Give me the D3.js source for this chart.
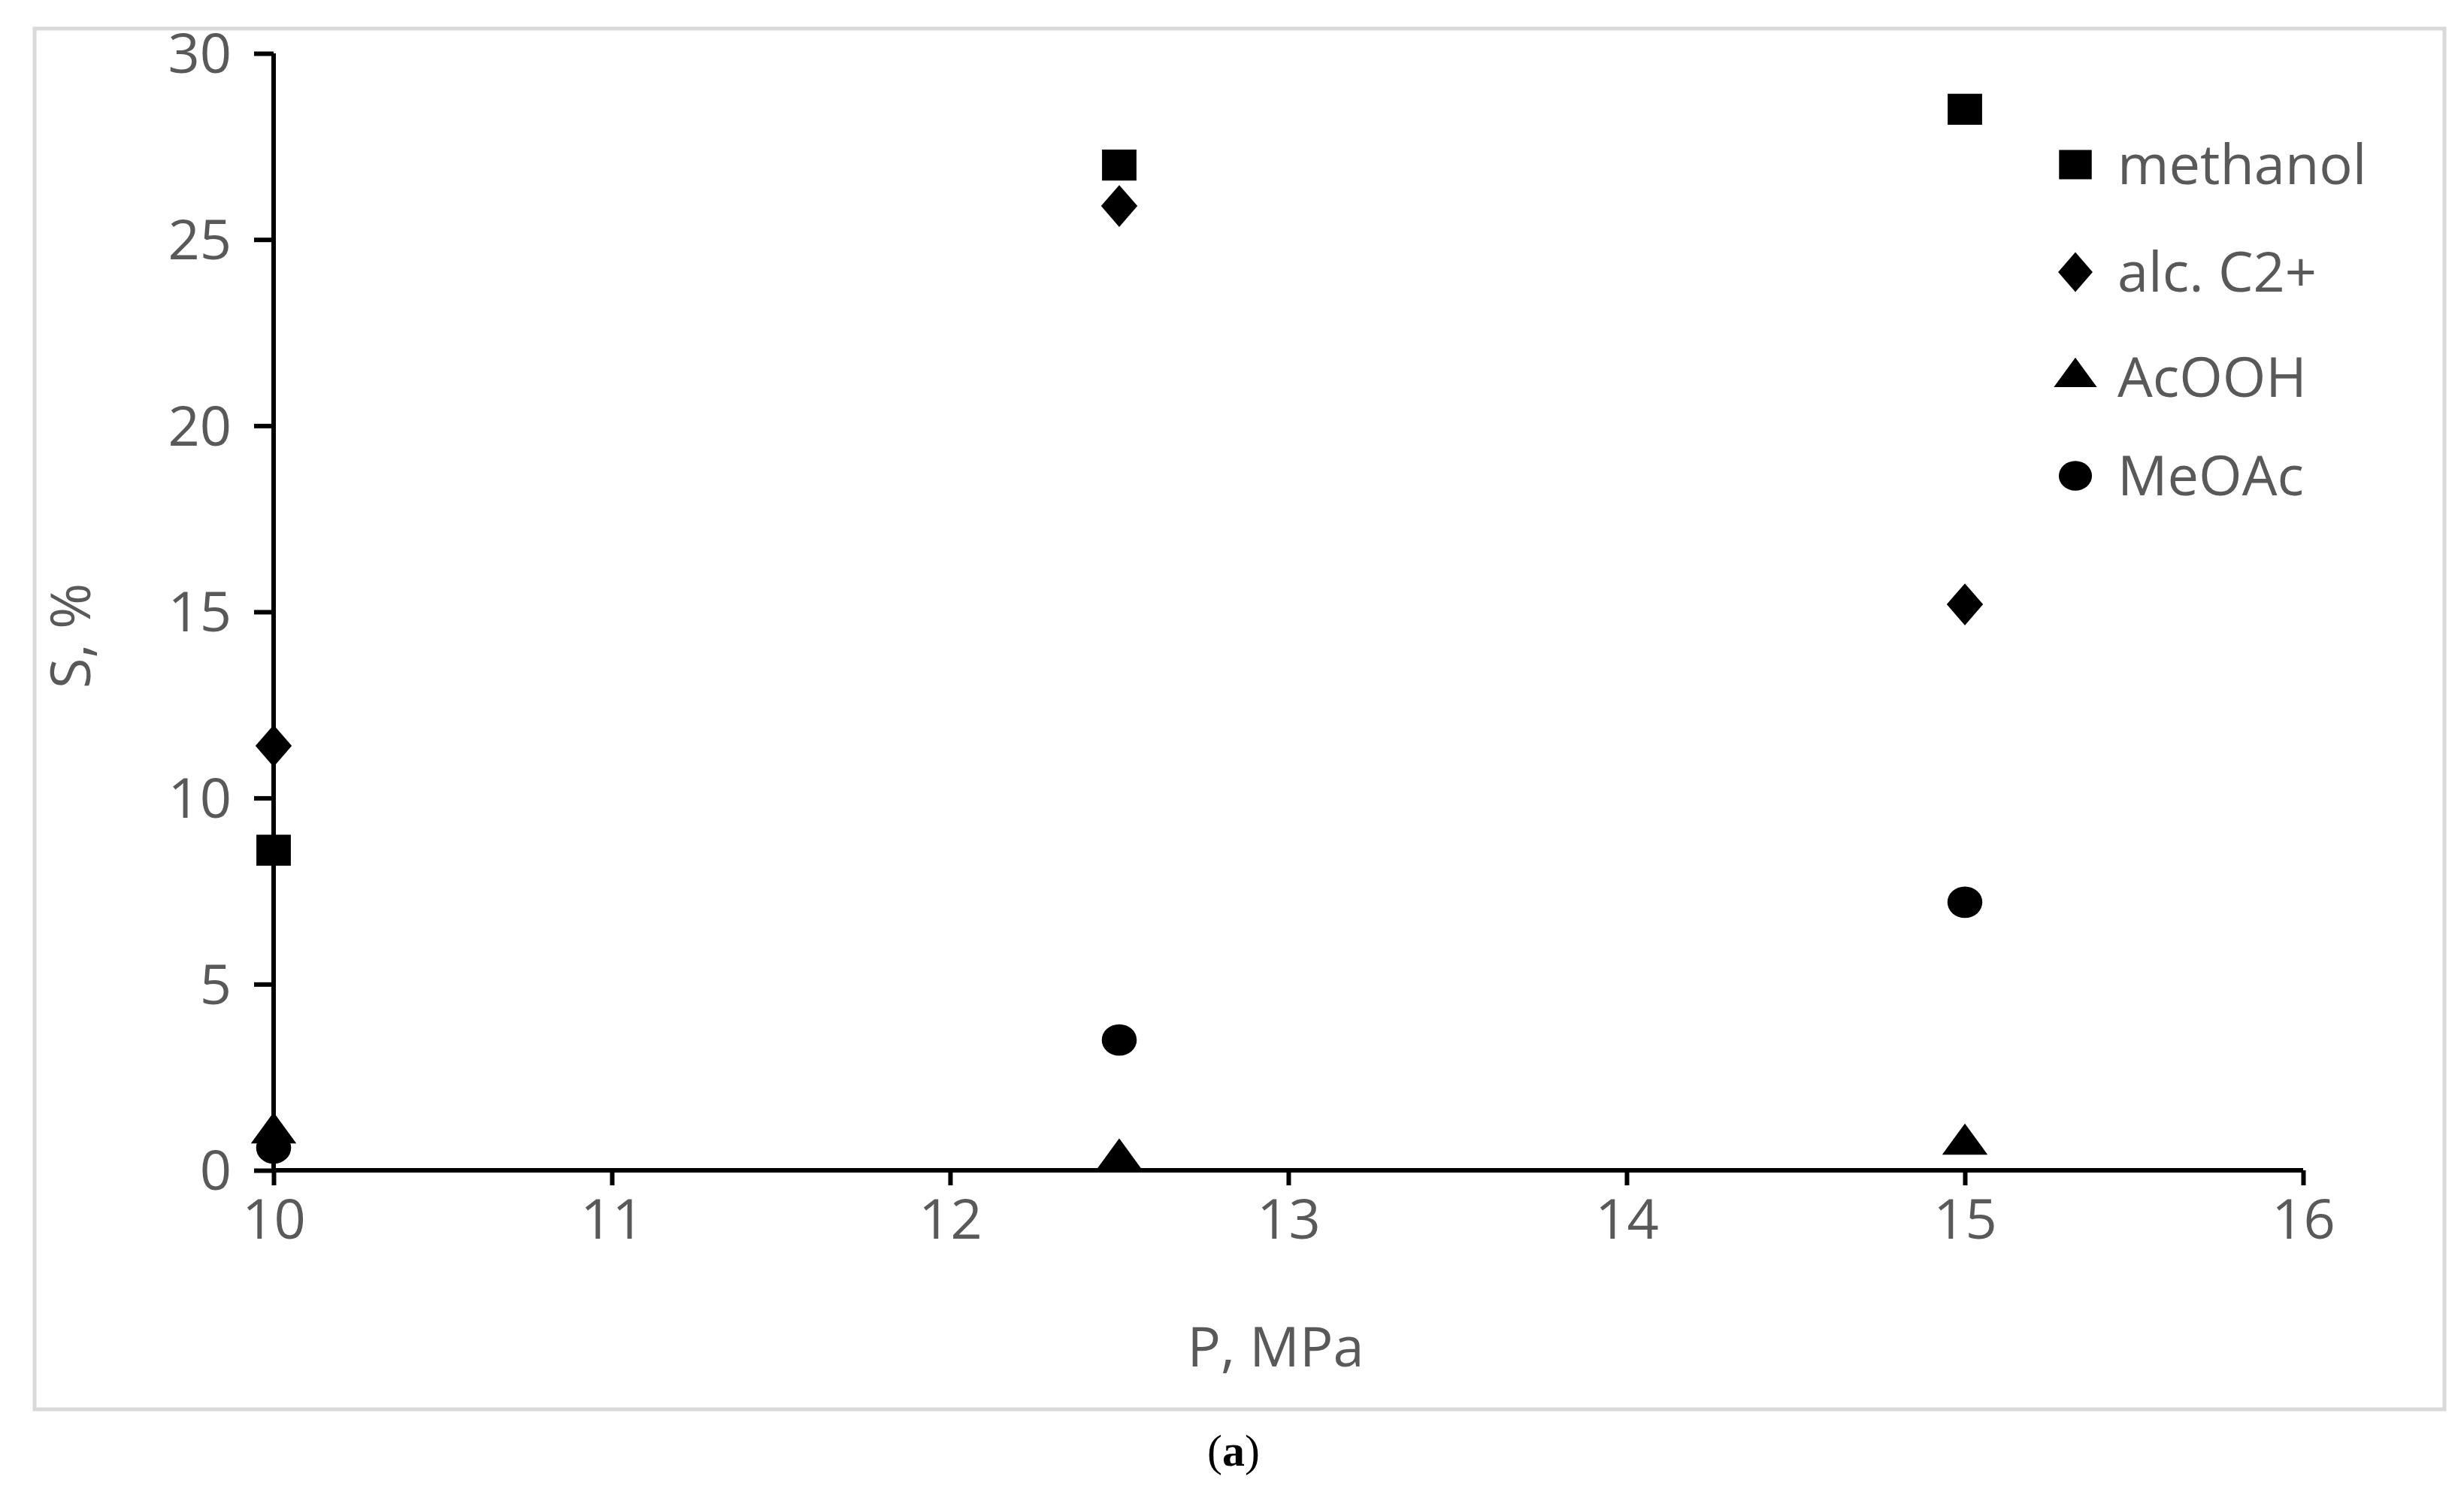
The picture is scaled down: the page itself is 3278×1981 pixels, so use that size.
<!DOCTYPE html>
<html><head><meta charset="utf-8">
<script src="https://cdn.jsdelivr.net/npm/d3@7"></script>
<style>body{margin:0;background:#fff}</style>
</head><body>
<svg id="c" width="3278" height="1981"></svg>
<script>
const xTicks=[10,11,12,13,14,15,16];
const yTicks=[0,5,10,15,20,25,30];
const pressures=[10,12.5,15];
const methanol=[8.6,27.0,28.5];
const alcC2=[11.4,25.9,15.2];
const acooh=[1.0,0.3,0.7];
const meoac=[0.6,3.5,7.2];
const seriesNames=["methanol","alc. C2+","AcOOH","MeOAc"];

const svg=d3.select("#c");
const font="'Open Sans', sans-serif", grey="#595959";
svg.append("rect").attr("x",46).attr("y",38).attr("width",3206).attr("height",1837)
  .attr("fill","none").attr("stroke","#d9d9d9").attr("stroke-width",5);
const x=d3.scaleLinear().domain([10,16]).range([364,3064]);
const y=d3.scaleLinear().domain([0,30]).range([1557,71]);

const gx=svg.append("g").attr("transform","translate(0,1557)")
  .call(d3.axisBottom(x).tickValues(xTicks).tickSize(20).tickPadding(18).tickFormat(d3.format("d")));
const gy=svg.append("g").attr("transform","translate(364,0)")
  .call(d3.axisLeft(y).tickValues(yTicks).tickSize(26).tickPadding(30).tickFormat(d3.format("d")));
[gx,gy].forEach(g=>{
  g.select(".domain").attr("stroke","#000").attr("stroke-width",6);
  g.selectAll(".tick line").attr("stroke","#000").attr("stroke-width",6);
  g.selectAll(".tick text").attr("fill",grey).attr("font-family",font).attr("font-size",74);
});
gy.selectAll(".tick text").attr("dy","0.35em");
gx.select(".domain").attr("d","M364,0H3064");
gy.select(".domain").attr("d","M0,1557V71");

svg.append("text").attr("x",1697).attr("y",1818).attr("text-anchor","middle")
  .attr("fill",grey).attr("font-family",font).attr("font-size",74).text("P, MPa");
svg.append("text").attr("transform","translate(120,846) rotate(-90)").attr("text-anchor","middle")
  .attr("fill",grey).attr("font-family",font).attr("font-size",74).text("S, %");
svg.append("text").attr("x",1641).attr("y",1950).attr("text-anchor","middle")
  .attr("font-family","'Liberation Serif', serif").attr("font-size",60).text("(a)")
  .call(t=>{t.text("");t.append("tspan").text("(");t.append("tspan").attr("font-weight","bold").text("a");t.append("tspan").text(")");});

const shapes=[
  {data:methanol,sym:d3.symbolSquare,size:2100,sx:1,sy:0.9},
  {data:alcC2,sym:d3.symbolDiamond,size:900,sx:1.5,sy:1},
  {data:acooh,sym:d3.symbolTriangle,size:1100,sx:1.2,sy:0.95},
  {data:meoac,sym:d3.symbolCircle,size:1700,sx:1,sy:0.9}
];
shapes.forEach(s=>{
  const p=d3.symbol().type(s.sym).size(s.size)();
  svg.append("g").selectAll("path").data(s.data).join("path")
    .attr("d",p).attr("fill","#000")
    .attr("transform",(d,i)=>`translate(${x(pressures[i])},${y(d)}) scale(${s.sx},${s.sy})`);
});
const ly=[219,362,502,633];
shapes.forEach((s,i)=>{
  const p=d3.symbol().type(s.sym).size(s.size*0.9)();
  svg.append("path").attr("d",p).attr("fill","#000")
    .attr("transform",`translate(2761,${ly[i]}) scale(${s.sx},${s.sy})`);
  svg.append("text").attr("x",2817).attr("y",ly[i]).attr("dy","0.35em")
    .attr("fill",grey).attr("font-family",font).attr("font-size",74).text(seriesNames[i]);
});
</script>
</body></html>
